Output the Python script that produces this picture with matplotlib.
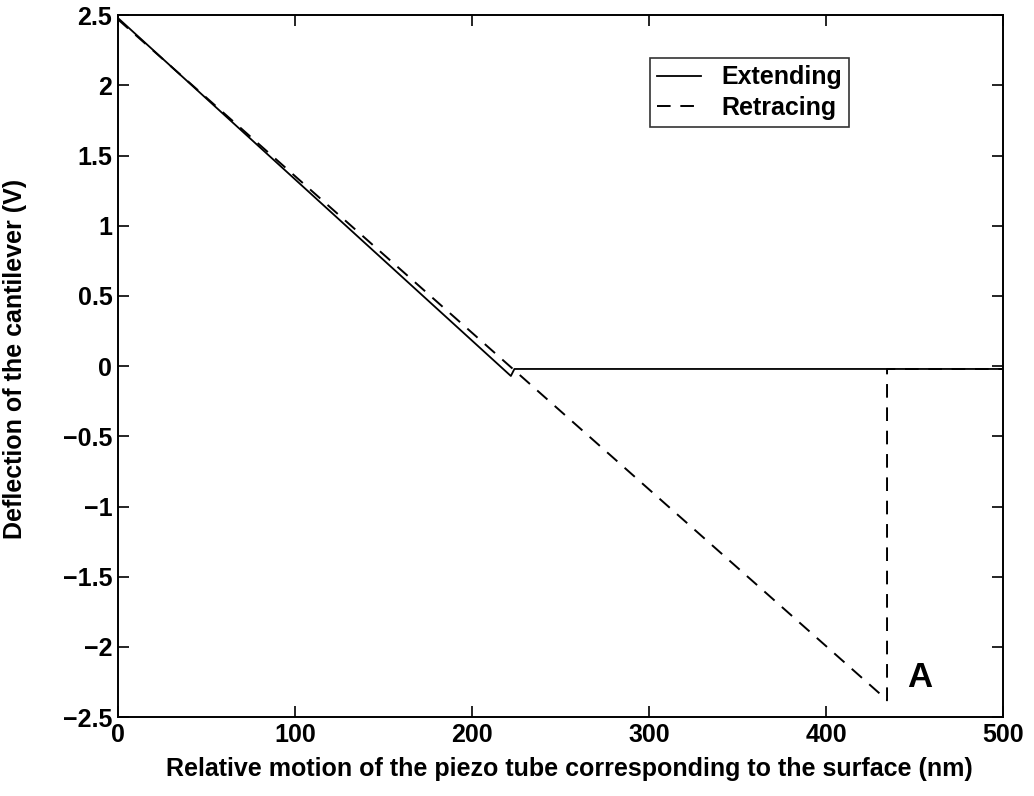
import numpy as np
import matplotlib.pyplot as plt

plt.rcParams['font.family'] = ['Liberation Sans', 'DejaVu Sans']
plt.rcParams['font.weight'] = 'bold'
plt.rcParams['axes.labelweight'] = 'bold'

# Extending curve (piezo moving towards the surface)
ext_x = [0, 222, 224, 500]
ext_y = [2.48, -0.07, -0.02, -0.02]

# Retracing curve (piezo moving away, snap-off at A)
ret_x = [0, 432, 434.5, 434.5, 500]
ret_y = [2.47, -2.35, -2.38, -0.02, -0.02]

fig = plt.figure(figsize=(10.34, 7.96), dpi=100)
ax = fig.add_axes([0.114, 0.099, 0.856, 0.882])

ax.plot(ext_x, ext_y, color='black', linewidth=1.3, label='Extending')
ax.plot(ret_x, ret_y, color='black', linewidth=1.4, dashes=(7, 5), label='Retracing')

ax.text(453, -2.22, 'A', fontsize=25, fontweight='bold', ha='center', va='center')

ax.set_xlim(0, 500)
ax.set_ylim(-2.5, 2.5)
ax.set_xticks(np.arange(0, 501, 100))
ax.set_yticks(np.arange(-2.5, 2.51, 0.5))
ax.set_yticklabels(['−2.5', '−2', '−1.5', '−1', '−0.5', '0', '0.5', '1', '1.5', '2', '2.5'])
ax.tick_params(direction='in', top=True, right=True, length=8, width=1.2, labelsize=18, pad=4)
for s in ax.spines.values():
    s.set_linewidth(1.4)

ax.set_xlabel('Relative motion of the piezo tube corresponding to the surface (nm)',
              fontsize=18, fontweight='bold')
ax.set_ylabel('Deflection of the cantilever (V)', fontsize=18, fontweight='bold')
ax.xaxis.set_label_coords(0.51, -0.057)
ax.yaxis.set_label_coords(-0.103, 0.51)

leg = ax.legend(loc='upper left', bbox_to_anchor=(0.601, 0.939), borderaxespad=0,
                fontsize=18, frameon=True, fancybox=False, edgecolor='black',
                handlelength=1.75, handletextpad=0.8, borderpad=0.3, labelspacing=0.25)
leg.get_frame().set_linewidth(1.2)

fig.savefig('out.png', dpi=100)
